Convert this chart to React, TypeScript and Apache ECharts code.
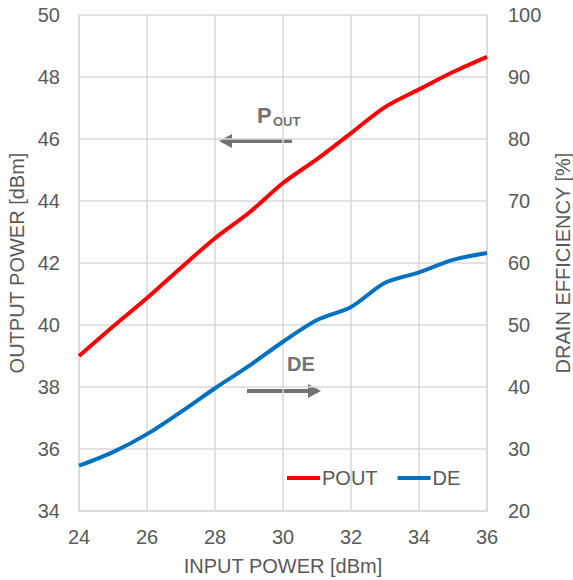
import React, { useEffect, useRef } from "react";
import * as echarts from "echarts";

// Input drive level [dBm]
const inputPower = [24, 25, 26, 27, 28, 29, 30, 31, 32, 33, 34, 35, 36];
// Output power [dBm]
const outputPower = [39.0, 39.95, 40.87, 41.85, 42.8, 43.62, 44.58, 45.35, 46.19, 47.03, 47.6, 48.16, 48.65];
// Drain efficiency [%]
const drainEfficiency = [27.3, 29.5, 32.4, 36.0, 39.8, 43.4, 47.3, 50.8, 52.9, 56.8, 58.5, 60.5, 61.6];

const xTicks = { min: 24, max: 36, interval: 2 };
const leftTicks = { min: 34, max: 50, interval: 2 };
const rightTicks = { min: 20, max: 100, interval: 10 };

const FONT = "Liberation Sans, Arial, sans-serif";
const TEXT = "#595959";
const GRID = "#d9d9d9";
const ARROW = "#767171";

export default function App() {
  const ref = useRef<HTMLDivElement>(null);

  useEffect(() => {
    if (!ref.current) return;
    const chart = echarts.init(ref.current, undefined, { renderer: "svg" });

    const axisLabel = { color: TEXT, fontSize: 20, fontFamily: FONT };
    const nameStyle = { color: TEXT, fontSize: 20, fontFamily: FONT };

    chart.setOption({
      animation: false,
      backgroundColor: "#ffffff",
      textStyle: { fontFamily: FONT },
      grid: { left: 79, top: 15, right: 86, bottom: 69, outerBoundsMode: "none" },
      legend: {
        left: 287,
        top: 468,
        padding: 0,
        itemWidth: 33,
        itemHeight: 20,
        itemGap: 20,
        textStyle: { color: TEXT, fontSize: 20, fontFamily: FONT, padding: [0, 0, 0, -3] },
        data: [
          { name: "POUT", icon: "path://M0,9 L33,9 L33,13 L0,13 Z", itemStyle: { color: "#ff0000" } },
          { name: "DE", icon: "path://M0,9 L33,9 L33,13 L0,13 Z", itemStyle: { color: "#0070c0" } },
        ],
      },
      xAxis: {
        type: "value",
        ...xTicks,
        name: "INPUT POWER [dBm]",
        nameLocation: "middle",
        nameGap: 45,
        nameTextStyle: nameStyle,
        axisLine: { show: true, lineStyle: { color: GRID, width: 1.5 } },
        axisTick: { show: false },
        axisLabel: { ...axisLabel, margin: 16 },
        splitLine: { show: true, lineStyle: { color: GRID, width: 1.5 } },
      },
      yAxis: [
        {
          type: "value",
          ...leftTicks,
          position: "left",
          name: "OUTPUT POWER [dBm]",
          nameLocation: "middle",
          nameGap: 50,
          nameTextStyle: nameStyle,
          axisLine: { show: true, lineStyle: { color: GRID, width: 1.5 } },
          axisTick: { show: false },
          axisLabel: { ...axisLabel, margin: 19 },
          splitLine: { show: true, lineStyle: { color: GRID, width: 1.5 } },
        },
        {
          type: "value",
          ...rightTicks,
          position: "right",
          name: "DRAIN EFFICIENCY [%]",
          nameLocation: "middle",
          nameGap: 66,
          nameRotate: 90,
          nameTextStyle: nameStyle,
          axisLine: { show: true, lineStyle: { color: GRID, width: 1.5 } },
          axisTick: { show: false },
          axisLabel: { ...axisLabel, margin: 21 },
          splitLine: { show: false },
        },
      ],
      series: [
        {
          name: "POUT",
          type: "line",
          yAxisIndex: 0,
          smooth: 0.3,
          symbol: "none",
          lineStyle: { color: "#ff0000", width: 4 },
          itemStyle: { color: "#ff0000" },
          data: inputPower.map((x, i) => [x, outputPower[i]]),
        },
        {
          name: "DE",
          type: "line",
          yAxisIndex: 1,
          smooth: 0.3,
          symbol: "none",
          lineStyle: { color: "#0070c0", width: 4 },
          itemStyle: { color: "#0070c0" },
          data: inputPower.map((x, i) => [x, drainEfficiency[i]]),
        },
      ],
      graphic: [
        // POUT annotation, arrow pointing to the left axis
        { type: "line", shape: { x1: 292, y1: 141, x2: 230, y2: 141 }, style: { stroke: ARROW, lineWidth: 4 } },
        { type: "polygon", shape: { points: [[219, 141], [232, 134], [232, 148]] }, style: { fill: ARROW } },
        {
          type: "text",
          x: 257,
          y: 115,
          style: { text: "P", font: `bold 22px ${FONT}`, fill: ARROW, verticalAlign: "middle", align: "left" },
        },
        {
          type: "text",
          x: 273,
          y: 121.5,
          style: { text: "OUT", font: `bold 13px ${FONT}`, fill: ARROW, verticalAlign: "middle", align: "left" },
        },
        // DE annotation, arrow pointing to the right axis
        { type: "line", shape: { x1: 247, y1: 391, x2: 310, y2: 391 }, style: { stroke: ARROW, lineWidth: 4 } },
        { type: "polygon", shape: { points: [[321, 391], [308, 384], [308, 398]] }, style: { fill: ARROW } },
        {
          type: "text",
          x: 287,
          y: 364,
          style: { text: "DE", font: `bold 20px ${FONT}`, fill: ARROW, verticalAlign: "middle", align: "left" },
        },
      ],
    });

    return () => chart.dispose();
  }, []);

  return (
    <div
      ref={ref}
      style={{ position: "absolute", left: 0, top: 0, width: 573, height: 580, background: "#fff" }}
    />
  );
}
